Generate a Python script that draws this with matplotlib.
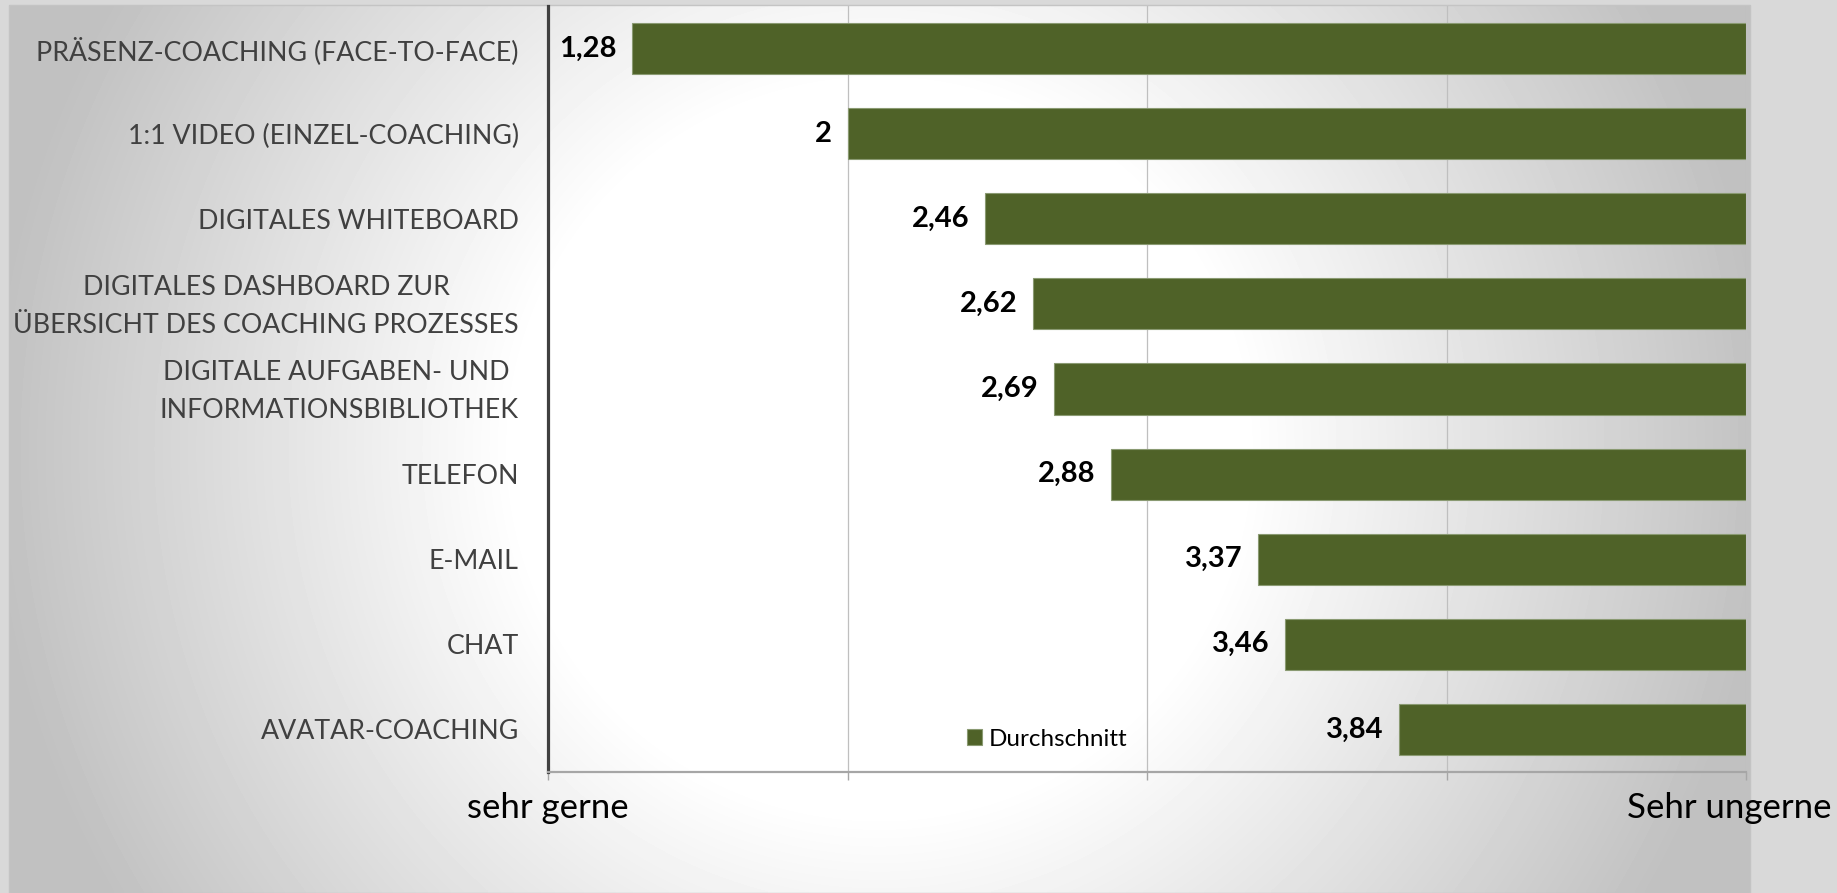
import numpy as np
import matplotlib
matplotlib.use("Agg")
import matplotlib.pyplot as plt
from matplotlib.patches import Rectangle
from matplotlib.transforms import ScaledTranslation

# data, top to bottom
CATEGORIES = [
    "PRÄSENZ-COACHING (FACE-TO-FACE)",
    "1:1 VIDEO (EINZEL-COACHING)",
    "DIGITALES WHITEBOARD",
    "DIGITALES DASHBOARD ZUR\nÜBERSICHT DES COACHING PROZESSES",
    "DIGITALE AUFGABEN- UND \nINFORMATIONSBIBLIOTHEK",
    "TELEFON",
    "E-MAIL",
    "CHAT",
    "AVATAR-COACHING",
]
AVERAGES = [1.28, 2.00, 2.46, 2.62, 2.69, 2.88, 3.37, 3.46, 3.84]
VALUE_LABELS = ["1,28", "2", "2,46", "2,62", "2,69", "2,88", "3,37", "3,46", "3,84"]
SCALE_MIN, SCALE_MAX = 1, 5
SCALE_LABELS = ["sehr gerne", "Sehr ungerne"]
SERIES_NAME = "Durchschnitt"

BAR_COLOR = "#4f6228"
TEXT_GRAY = "#404040"
FONT = "Lato"

W, H = 1837, 893
fig = plt.figure(figsize=(W / 100, H / 100), dpi=100)
fig.patch.set_facecolor("#d9d9d9")

# background: radial grey-to-white gradient like the Excel chart area
bg = fig.add_axes([0, 0, 1, 1], zorder=-10)
bg.set_xlim(0, W)
bg.set_ylim(H, 0)
bg.axis("off")
x0, x1, y0, y1 = 9, 1750, 5, H
xx, yy = np.meshgrid(np.linspace(x0, x1, 500), np.linspace(y0, y1, 250))
cx, cy = (x0 + x1) / 2, (y0 + y1) / 2
rad = (x1 - x0) / 2
r = np.hypot(xx - cx, yy - cy) / rad
t = np.clip((r - 0.42) / 0.6, 0, 1)
gray = (255 - 62 * t) / 255
bg.imshow(gray, cmap="gray", vmin=0, vmax=1, extent=[x0, x1, y1, y0],
          aspect="auto", interpolation="bilinear")
bg.add_patch(Rectangle((x0, y0), x1 - x0, y1 - y0, fill=False,
                       edgecolor="#c4c4c4", linewidth=1))

ax = fig.add_axes([548 / W, 1 - 772 / H, (1746 - 548) / W, (772 - 6) / H])
ax.patch.set_alpha(0)

y = np.arange(len(CATEGORIES))
widths = [SCALE_MAX - v for v in AVERAGES]
ax.barh(y, widths, left=AVERAGES, height=0.6, color=BAR_COLOR,
        edgecolor="#8a9a72", linewidth=0.8, label=SERIES_NAME, zorder=3)

for yi, v, lab in zip(y, AVERAGES, VALUE_LABELS):
    ax.annotate(lab, (v, yi), xytext=(-11, 0), textcoords="offset points",
                ha="right", va="center", fontsize=21, fontweight="bold",
                family=FONT, color="black")

ax.set_xlim(SCALE_MIN, SCALE_MAX)
ax.set_ylim(len(CATEGORIES) - 0.5, -0.5)
ax.set_yticks(y)
ax.set_yticklabels(CATEGORIES, family=FONT, fontsize=19.3, color=TEXT_GRAY,
                   multialignment="center", linespacing=1.62)
ax.tick_params(axis="y", length=0, pad=21)
# two-line labels sit a little high in the original
for lbl in ax.get_yticklabels():
    if "\n" in lbl.get_text():
        lbl.set_transform(lbl.get_transform()
                          + ScaledTranslation(0, 0.06, fig.dpi_scale_trans))

ax.set_xticks(range(SCALE_MIN, SCALE_MAX + 1))
ax.set_xticklabels([])
ax.tick_params(axis="x", length=6, width=1, color="#a6a6a6", direction="out")
ax.annotate(SCALE_LABELS[0], (SCALE_MIN, 0), xycoords=("data", "axes fraction"),
            xytext=(0, -26), textcoords="offset points", ha="center", va="center",
            fontsize=25, family=FONT, color="black")
ax.annotate(SCALE_LABELS[1], (SCALE_MAX, 0), xycoords=("data", "axes fraction"),
            xytext=(-12, -26), textcoords="offset points", ha="center", va="center",
            fontsize=25, family=FONT, color="black")

ax.grid(axis="x", color="#bfbfbf", linewidth=0.9, zorder=0)
ax.set_axisbelow(True)
for side in ["top", "right"]:
    ax.spines[side].set_visible(False)
ax.spines["left"].set_color(TEXT_GRAY)
ax.spines["left"].set_linewidth(2.3)
ax.spines["bottom"].set_color("#a6a6a6")
ax.spines["bottom"].set_linewidth(1.6)

ax.legend(loc="center", bbox_to_anchor=(0.417, 0.043), frameon=False,
          handlelength=0.6, handleheight=0.6, handletextpad=0.3,
          prop={"family": FONT, "size": 17.5})

fig.savefig("out.png", dpi=100, facecolor=fig.get_facecolor())
